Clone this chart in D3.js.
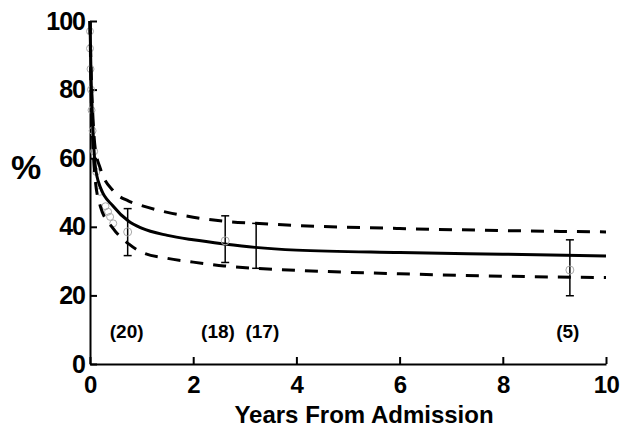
<!DOCTYPE html>
<html>
<head>
<meta charset="utf-8">
<script src="https://cdn.jsdelivr.net/npm/d3@7"></script>
<style>
  body { margin: 0; background: #fff; }
  text { font-family: "Liberation Sans", Arial, Helvetica, sans-serif; font-weight: bold; fill: #000; }
</style>
</head>
<body>
<div id="vis"></div>
<script>
// set up dimens. and margins
const margin = { top: 21, right: 14, bottom: 68, left: 90 };
const width = 620 - margin.left - margin.right;
const height = 432 - margin.top - margin.bottom;

// fitted curve + confidence band
const fitYears = [0, 0.02, 0.05, 0.1, 0.2, 0.45, 0.75, 1, 1.5, 2, 2.6, 3.2, 4, 6, 8, 10];
const fitMid   = [100, 84, 71, 58, 51.5, 46, 41.6, 39.6, 37.5, 36.2, 35, 34, 33.2, 32.5, 32, 31.5];
const fitUpper = [100, 86, 74, 63, 57, 50.5, 47.5, 46.2, 44.2, 42.8, 41.6, 41, 40.4, 39.5, 38.9, 38.5];
const fitLower = [100, 80, 66, 54, 46, 39.5, 35, 32.6, 30.8, 29.7, 28.6, 27.9, 27.3, 26.3, 25.6, 25.2];

// error bars (mean, upper, lower) and group sizes
const barYears = [0.73, 2.62, 3.22, 9.3];
const barMean  = [38.5, 35.9, null, 27.4];
const barHigh  = [45.3, 43.2, 41, 36.2];
const barLow   = [31.6, 29.6, 27.9, 19.9];
const countLabels = ['(20)', '(18)', '(17)', '(5)'];
const countYears  = [0.71, 2.48, 3.34, 9.26];
const countPct = 9.5;

// early observations (grey open circles)
const obsYears = [0, 0, 0.01, 0.02, 0.03, 0.05, 0.08, 0.12, 0.19, 0.3, 0.35, 0.39, 0.45];
const obsPct   = [97, 92, 86, 80, 74, 68, 62, 56, 50.2, 46, 44.4, 42.9, 41];

const xTicks = [0, 2, 4, 6, 8, 10];
const yTicks = [0, 20, 40, 60, 80, 100];

const svg = d3.select('#vis')
  .append('svg')
  .attr('width', 620)
  .attr('height', 432);

const g = svg.append('g')
  .attr('transform', `translate(${margin.left},${margin.top})`);

const x = d3.scaleLinear().domain([0, 10]).range([0, width]);
const y = d3.scaleLinear().domain([0, 100]).range([height, 0]);

// axes, ticks pointing inward
const xAxis = g.append('g')
  .attr('transform', `translate(0,${height})`)
  .call(d3.axisBottom(x).tickValues(xTicks).tickSize(-7).tickSizeOuter(0).tickPadding(12));
xAxis.selectAll('text').style('font-size', '24px').attr('letter-spacing', '-0.5px');

const yAxis = g.append('g')
  .call(d3.axisLeft(y).tickValues(yTicks).tickSize(-7).tickSizeOuter(0).tickPadding(5));
yAxis.selectAll('text').style('font-size', '25px').attr('letter-spacing', '-1px');

g.selectAll('.domain, .tick line').attr('stroke', '#000').attr('stroke-width', 2);

// observed points
g.selectAll('.obs')
  .data(obsYears.map((d, i) => [d, obsPct[i]]))
  .join('circle')
  .attr('cx', d => x(d[0]))
  .attr('cy', d => y(d[1]))
  .attr('r', 3.5)
  .attr('fill', 'none')
  .attr('stroke', '#aaa')
  .attr('stroke-width', 1);

const line = d3.line()
  .x(d => x(d[0]))
  .y(d => y(d[1]))
  .curve(d3.curveMonotoneX);

g.append('path')
  .datum(fitYears.map((d, i) => [d, fitMid[i]]))
  .attr('d', line)
  .attr('fill', 'none')
  .attr('stroke', '#000')
  .attr('stroke-width', 3);

[fitUpper, fitLower].forEach(vals => {
  g.append('path')
    .datum(fitYears.map((d, i) => [d, vals[i]]))
    .attr('d', line)
    .attr('fill', 'none')
    .attr('stroke', '#000')
    .attr('stroke-width', 3)
    .attr('stroke-dasharray', '13,10');
});

// error bars
const bars = g.selectAll('.bar')
  .data(barYears.map((d, i) => ({ yr: d, mean: barMean[i], hi: barHigh[i], lo: barLow[i] })))
  .join('g');

bars.append('line')
  .attr('x1', d => x(d.yr)).attr('x2', d => x(d.yr))
  .attr('y1', d => y(d.hi)).attr('y2', d => y(d.lo))
  .attr('stroke', '#000').attr('stroke-width', 1.5);

['hi', 'lo'].forEach(k => {
  bars.append('line')
    .attr('x1', d => x(d.yr) - 4).attr('x2', d => x(d.yr) + 4)
    .attr('y1', d => y(d[k])).attr('y2', d => y(d[k]))
    .attr('stroke', '#000').attr('stroke-width', 1.5);
});

bars.filter(d => d.mean != null)
  .append('circle')
  .attr('cx', d => x(d.yr))
  .attr('cy', d => y(d.mean))
  .attr('r', 4)
  .attr('fill', 'none')
  .attr('stroke', '#aaa')
  .attr('stroke-width', 1);

// group sizes
g.selectAll('.count')
  .data(countLabels)
  .join('text')
  .attr('x', (d, i) => x(countYears[i]))
  .attr('y', y(countPct))
  .attr('dy', '0.35em')
  .attr('text-anchor', 'middle')
  .style('font-size', '19px')
  .text(d => d);

// axis titles
svg.append('text')
  .attr('x', 26)
  .attr('y', 167)
  .attr('dy', '0.35em')
  .attr('text-anchor', 'middle')
  .style('font-size', '34px')
  .text('%');

svg.append('text')
  .attr('x', 364)
  .attr('y', 423)
  .attr('text-anchor', 'middle')
  .style('font-size', '24px')
  .text('Years From Admission');
</script>
</body>
</html>
